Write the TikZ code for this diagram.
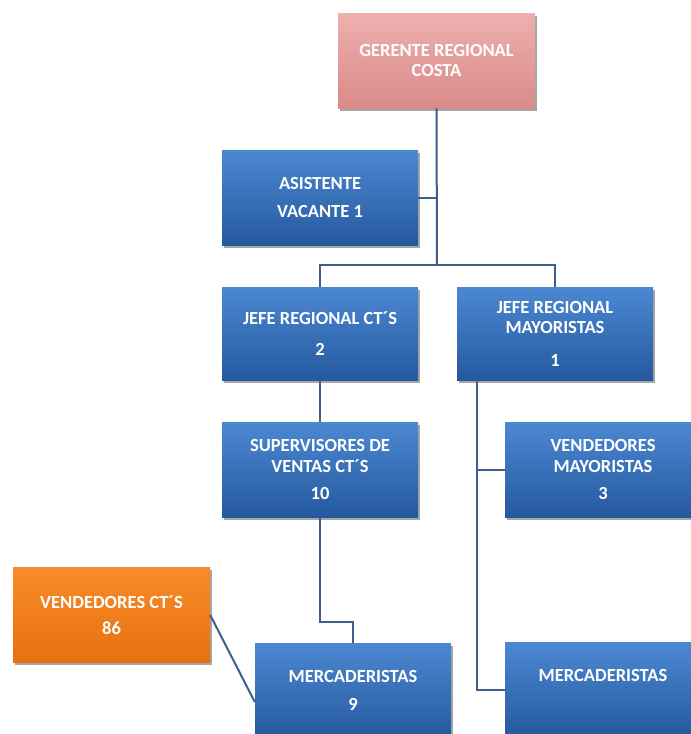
\documentclass[tikz,border=0pt]{standalone}
\usepackage{fontspec}
\setmainfont{Carlito}
\usetikzlibrary{shadows}
\definecolor{blueT}{HTML}{4C88D2}
\definecolor{blueB}{HTML}{25599F}
\definecolor{pinkT}{HTML}{EDB0AE}
\definecolor{pinkB}{HTML}{D98A88}
\definecolor{orangeT}{HTML}{F88B2A}
\definecolor{orangeB}{HTML}{E8700E}
\definecolor{linkc}{HTML}{3E5F8C}
\begin{document}
\begin{tikzpicture}[x=1pt,y=-1pt,
  chart/.style={rectangle, minimum width=196pt, minimum height=95pt,
    inner sep=0pt, align=center, text=white,
    font=\fontsize{18.5}{20.5}\selectfont\bfseries,
    drop shadow={shadow xshift=2pt, shadow yshift=-2.5pt, opacity=0.35, fill=black}},
  bluebox/.style={chart, top color=blueT, bottom color=blueB},
  pinkbox/.style={chart, top color=pinkT, bottom color=pinkB},
  orangebox/.style={chart, top color=orangeT, bottom color=orangeB},
  link/.style={draw=linkc, line width=2pt}]
\clip (0,0) rectangle (691,734);
\fill[white] (0,0) rectangle (691,734);

% boxes
\node[pinkbox, minimum width=197pt] (g) at (436.5,60.5) {GERENTE REGIONAL\\COSTA};
\node[bluebox] (a) at (320,197.5) {ASISTENTE\\[8pt]VACANTE 1};
\node[bluebox, minimum height=93pt] (jc) at (320,333.5) {JEFE REGIONAL CT´S\\[11pt]2};
\node[bluebox, minimum height=93pt] (jm) at (555,333.5) {JEFE REGIONAL\\MAYORISTAS\\[12pt]1};
\node[bluebox] (sv) at (320,469.5) {SUPERVISORES DE\\VENTAS CT´S\\[7pt]10};
\node[bluebox] (vm) at (603,469.5) {VENDEDORES\\MAYORISTAS\\[7pt]3};
\node[orangebox, minimum width=197pt] (ov) at (111.5,615) {VENDEDORES CT´S\\[6pt]86};
\node[bluebox] (m9) at (353,690.5) {MERCADERISTAS\\[7pt]9};
\node[bluebox] (mr) at (603,689.5) {MERCADERISTAS\\[7pt]\mbox{}};

% connectors
\coordinate (bar) at (437,265);
\draw[link] (g.south) -- (bar);
\draw[link] (a.east) -- (g.south |- a.east);
\draw[link] (jc.north) |- (bar) -| (jm.north);
\draw[link] (jc.south) -- (sv.north);
\coordinate (jmdrop) at (477,380);
\draw[link] (jmdrop) |- (mr.west);
\draw[link] (jmdrop |- vm.west) -- (vm.west);
\coordinate (svturn) at (320,622);
\draw[link] (sv.south) -- (svturn) -| (m9.north);
\draw[link] (ov.east) -- (m9.west |- 0,702);
\end{tikzpicture}
\end{document}
